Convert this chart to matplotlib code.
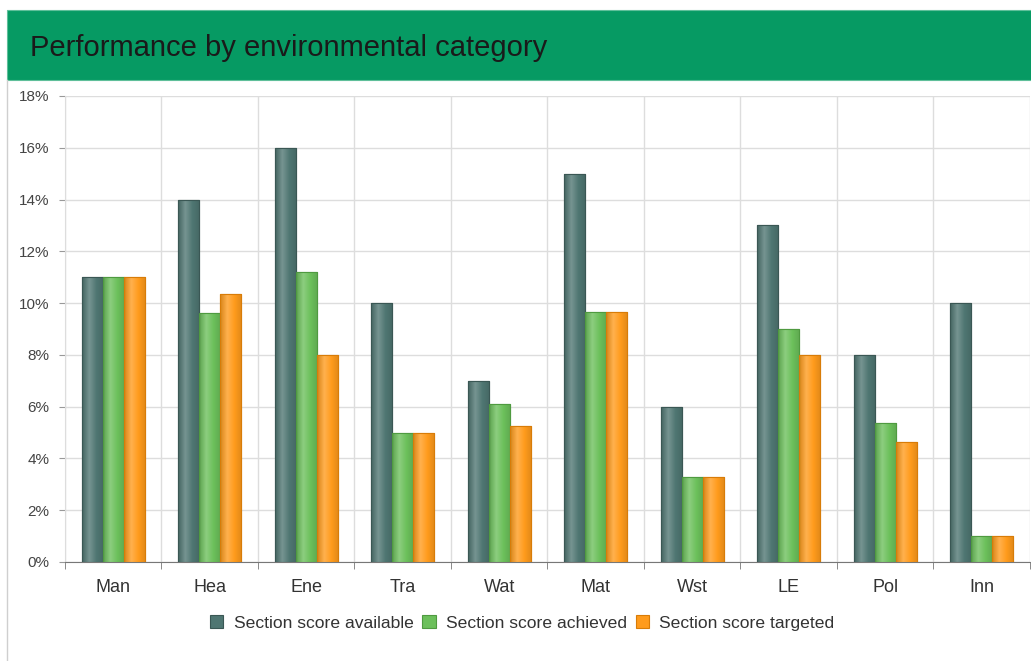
import matplotlib.pyplot as plt
from matplotlib.patches import Rectangle
from matplotlib.lines import Line2D
from matplotlib.colors import LinearSegmentedColormap, to_rgb
import numpy as np

# chart data (percent of total score)
categories = ['Man', 'Hea', 'Ene', 'Tra', 'Wat', 'Mat', 'Wst', 'LE', 'Pol', 'Inn']
available = [11, 14, 16, 10, 7, 15, 6, 13, 8, 10]
achieved = [11, 9.6, 11.2, 5, 6.1, 9.65, 3.3, 9, 5.35, 1]
targeted = [11, 10.35, 8, 5, 5.25, 9.65, 3.3, 8, 4.65, 1]
series_names = ['Section score available', 'Section score achieved', 'Section score targeted']
y_ticks = [0, 2, 4, 6, 8, 10, 12, 14, 16, 18]

plt.rcParams['font.family'] = ['Liberation Sans', 'DejaVu Sans']


def shade(c, f):
    r = np.array(to_rgb(c))
    if f > 0:
        return tuple(r + (1 - r) * f)
    return tuple(r * (1 + f))


fig = plt.figure(figsize=(10.31, 6.61), dpi=100)

# green title band
fig.patches.append(Rectangle((0.0068, 0.879), 0.994, 0.106, transform=fig.transFigure,
                             facecolor='#069a63', edgecolor='#5fbf9a', linewidth=0.8))
fig.text(0.029, 0.928, 'Performance by environmental category', fontsize=21,
         color='#1a1a1a', va='center', ha='left')
# thin grey frame line on the left
fig.lines.append(Line2D([0.0072, 0.0072], [0.0, 0.879], transform=fig.transFigure,
                        color='#cfcfcf', linewidth=1.0))

ax = fig.add_axes([0.063, 0.1498, 0.936, 0.705])

x = np.arange(len(categories))
w = 0.218
colors = ['#4f7672', '#6cc05b', '#ff9b1c']
edges = ['#3a5754', '#4f9a40', '#d87c08']
grad = np.linspace(0, 1, 64).reshape(1, -1)
for k, vals in enumerate([available, achieved, targeted]):
    bars = ax.bar(x + (k - 1) * w, vals, width=w, color=colors[k], edgecolor=edges[k],
                  linewidth=0.8, label=series_names[k], zorder=3)
    # cylinder-like horizontal shading, as in the original
    cmap = LinearSegmentedColormap.from_list(
        'g%d' % k, [shade(colors[k], -0.15), shade(colors[k], 0.22),
                    colors[k], shade(colors[k], -0.12)])
    for b in bars:
        bx, by = b.get_x(), b.get_y()
        im = ax.imshow(grad, cmap=cmap, aspect='auto', zorder=3.5,
                       extent=[bx, bx + b.get_width(), by, by + b.get_height()])
        im.set_clip_path(b)
        ax.add_patch(Rectangle((bx, by), b.get_width(), b.get_height(), fill=False,
                               edgecolor=edges[k], linewidth=0.8, zorder=4))

ax.set_xlim(-0.5, len(categories) - 0.5)
ax.set_ylim(0, 18)
ax.set_yticks(y_ticks)
ax.set_yticklabels([f'{t}%' for t in y_ticks], fontsize=11, color='#444444')
ax.set_xticks(x)
ax.set_xticklabels(categories, fontsize=13, color='#333333')
ax.tick_params(axis='x', length=0, pad=12)
ax.tick_params(axis='y', length=4, color='#999999', pad=7)
ax.set_xticks(np.arange(-0.5, len(categories)), minor=True)
ax.tick_params(axis='x', which='minor', length=5, color='#777777', direction='out')

ax.grid(True, which='major', axis='y', color='#dddddd', linewidth=1.0, zorder=0)
ax.grid(True, which='minor', axis='x', color='#dddddd', linewidth=1.0, zorder=0)
for s in ['top', 'right']:
    ax.spines[s].set_visible(False)
ax.spines['left'].set_color('#dddddd')
ax.spines['bottom'].set_color('#777777')

ax.legend(loc='upper center', bbox_to_anchor=(0.474, -0.08), ncol=3, frameon=False,
          fontsize=12.6, handlelength=0.75, handleheight=0.75, handletextpad=0.6,
          columnspacing=0.5, labelcolor='#333333')

plt.savefig('out.png', dpi=100)
plt.close()
